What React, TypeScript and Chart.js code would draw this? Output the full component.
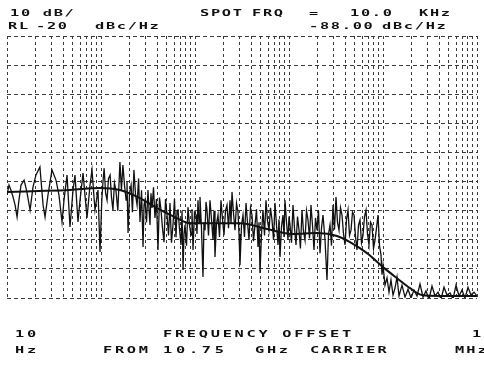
import React, { useEffect, useRef } from 'react';
import { Chart, registerables } from 'chart.js';
Chart.register(...registerables);

// Vertical grid (log decades with 2..9 sub-lines), Hz
const xGridTicks = [
  10, 20, 30, 40, 50, 60, 70, 80, 90,
  100, 200, 300, 400, 500, 600, 700, 800, 900,
  1000, 2000, 3000, 4000, 5000, 6000, 7000, 8000, 9000,
  10000, 20000, 30000, 40000, 50000, 60000, 70000, 80000, 90000,
  100000, 200000, 300000, 400000, 500000, 600000, 700000, 800000, 900000,
  1000000,
];
// Horizontal grid, dBc/Hz (10 dB/div, RL -20)
const yGridTicks = [-110, -100, -90, -80, -70, -60, -50, -40, -30, -20];

// Smoothed phase-noise curve
const smoothFreq = [10, 18.9, 46.8, 97.5, 159, 260, 394, 613, 885, 3010, 5840, 11000, 19900, 32400, 44600, 67600, 100000, 141000, 194000, 260000, 404000, 1000000];
const smoothDb = [-73.6, -73.3, -72.9, -72.2, -72.9, -75.7, -79.1, -82.2, -84.3, -84.3, -86.3, -88.0, -87.7, -88.7, -90.8, -94.6, -99.4, -103.2, -106.6, -109.0, -109.3, -109.3];

// Raw measured trace, 10 Hz - 100 Hz
const raw1Freq = [10, 10.5, 11.0, 11.6, 12.2, 12.8, 13.4, 14.1, 15.2, 16.3, 17.6, 18.9, 20.3, 22.4, 24.2, 25.4, 27.3, 30.1, 33.2, 35.7, 38.5, 40.4, 43.5, 46.8, 50.4, 52.9, 56.9, 59.8, 64.4, 71.0, 76.4, 80.2, 86.3, 92.9, 97.6];
const raw1Db = [-74.6, -71.2, -72.9, -75.3, -78.1, -82.2, -76.4, -71.2, -69.5, -73.6, -79.8, -71.9, -67.8, -65.0, -78.1, -82.2, -74.6, -66.0, -69.5, -74.6, -83.9, -76.4, -67.8, -85.6, -72.9, -67.8, -83.9, -76.4, -67.1, -82.5, -71.2, -66.0, -79.8, -72.9, -94.2];

// 100 Hz - 1 kHz
const raw2Freq = [102, 105, 108, 112, 116, 120, 125, 129, 134, 139, 144, 151, 159, 165, 171, 178, 185, 189, 194, 201, 209, 216, 224, 233, 242, 251, 260, 270, 280, 287, 294, 305, 316, 324, 332, 340, 349, 362, 375, 389, 404, 419, 435, 451, 468, 486, 504, 523, 542, 562, 583, 605, 628, 644, 660, 685, 710, 728, 746, 764, 783, 812, 842, 874, 907, 929, 952, 988];
const raw2Db = [-76.4, -70.0, -65.4, -74.0, -76.4, -69.0, -67.8, -75.0, -79.8, -70.5, -72.9, -80.0, -63.3, -73.0, -64.3, -71.5, -76.4, -70.0, -87.7, -74.0, -71.2, -80.5, -66.0, -74.5, -78.1, -69.0, -83.9, -73.0, -92.5, -78.0, -76.4, -84.0, -72.9, -79.5, -84.9, -74.0, -79.1, -72.0, -82.5, -76.0, -93.5, -75.5, -79.8, -86.0, -90.8, -76.0, -81.5, -88.5, -77.4, -91.0, -84.9, -76.0, -89.1, -80.0, -79.8, -86.5, -91.8, -80.0, -100.4, -88.0, -84.9, -92.0, -78.8, -85.0, -88.4, -79.5, -93.5, -80.5];

// 1 kHz - 10 kHz
const raw3Freq = [1025, 1050, 1076, 1103, 1130, 1172, 1216, 1247, 1278, 1310, 1342, 1392, 1444, 1498, 1554, 1593, 1632, 1693, 1757, 1823, 1891, 1962, 2035, 2111, 2190, 2272, 2357, 2416, 2476, 2569, 2665, 2765, 2868, 2939, 3011, 3124, 3241, 3362, 3488, 3619, 3754, 3894, 4040, 4191, 4348, 4511, 4680, 4796, 4915, 5099, 5289, 5487, 5692, 5905, 6127, 6357, 6595, 6842, 7097, 7363, 7638, 7828, 8023, 8323, 8634, 8848, 9067, 9407, 9759, 10000];
const raw3Db = [-81.5, -88.0, -76.4, -84.0, -75.3, -86.0, -102.8, -84.0, -86.7, -77.0, -79.8, -88.5, -76.4, -83.0, -90.1, -80.0, -95.9, -84.5, -81.5, -89.0, -76.4, -83.0, -88.4, -80.0, -78.1, -86.0, -76.4, -84.5, -73.6, -81.0, -86.7, -77.5, -80.5, -88.0, -98.7, -85.0, -81.5, -89.0, -77.4, -84.0, -90.1, -79.0, -81.5, -90.5, -84.9, -79.5, -92.5, -84.0, -101.4, -88.0, -79.8, -88.5, -76.4, -83.5, -86.7, -79.0, -83.2, -90.0, -77.4, -85.0, -91.8, -83.0, -95.9, -85.5, -81.5, -89.0, -76.4, -84.0, -90.1, -82.0];

// 10 kHz - 100 kHz
const raw4Freq = [10250, 10630, 11030, 11440, 11870, 12320, 12780, 13230, 13750, 14240, 14800, 15350, 15930, 16530, 17140, 17780, 18450, 19140, 19860, 20600, 21370, 22170, 23000, 24160, 25370, 26320, 27310, 28330, 29390, 30480, 31620, 32810, 34040, 35320, 36640, 38010, 39430, 40920, 42440, 44030, 45670, 47380, 49150, 50990, 52890, 54870, 56920, 59050, 61270, 63570, 65950, 68410, 70970, 73630, 76380, 79240, 82220, 85290, 88470, 91780, 95220, 97600];
const raw4Db = [-84.9, -91.0, -78.1, -86.0, -91.8, -82.0, -86.7, -93.0, -79.8, -87.0, -90.1, -80.0, -83.2, -89.5, -78.1, -85.0, -93.5, -82.5, -86.7, -80.0, -94.6, -86.0, -81.5, -90.0, -103.8, -88.0, -84.9, -92.0, -78.1, -86.5, -75.3, -84.0, -86.7, -79.0, -81.5, -88.0, -91.8, -83.0, -79.8, -88.5, -86.7, -80.5, -81.5, -89.0, -93.5, -85.0, -83.2, -91.0, -88.4, -82.0, -79.8, -88.0, -91.8, -84.0, -84.9, -93.0, -90.1, -86.0, -81.5, -92.0, -95.2, -102.0];

// 100 kHz - 1 MHz
const raw5Freq = [100000, 105000, 110300, 115800, 121600, 127800, 134200, 140900, 148000, 159300, 171400, 184500, 198600, 213700, 230000, 247600, 266500, 286800, 308700, 332100, 357400, 384700, 414000, 445600, 479600, 516200, 555600, 597900, 643500, 692500, 745500, 802300, 863400, 929300, 1000000];
const raw5Db = [-98.7, -105.6, -103.1, -108.0, -103.8, -109.0, -106.6, -102.8, -109.3, -105.6, -109.7, -107.0, -110.0, -107.3, -109.3, -105.2, -109.7, -107.6, -110.4, -105.9, -109.3, -108.0, -110.4, -106.3, -109.0, -108.3, -110.4, -105.6, -109.3, -107.3, -110.0, -106.3, -109.0, -108.0, -109.3];

const rawFreq = [...raw1Freq, ...raw2Freq, ...raw3Freq, ...raw4Freq, ...raw5Freq];
const rawDb = [...raw1Db, ...raw2Db, ...raw3Db, ...raw4Db, ...raw5Db];

const labels = [
  { text: '10 dB/', x: 10, y: 10, ls: 1 },
  { text: 'SPOT', x: 200, y: 10, ls: 1 },
  { text: 'FRQ', x: 252, y: 10, ls: 1 },
  { text: '=', x: 309, y: 10, ls: 1 },
  { text: '10.0', x: 350, y: 10, ls: 1 },
  { text: 'KHz', x: 419, y: 10, ls: 1 },
  { text: 'RL', x: 8, y: 23, ls: 1 },
  { text: '-20', x: 36, y: 23, ls: 1 },
  { text: 'dBc/Hz', x: 95, y: 23, ls: 1 },
  { text: '-88.00', x: 309, y: 23, ls: 1 },
  { text: 'dBc/Hz', x: 382, y: 23, ls: 1 },
  { text: '10', x: 15, y: 331, ls: 1.6 },
  { text: 'Hz', x: 15, y: 347, ls: 1.6 },
  { text: 'FREQUENCY OFFSET', x: 163, y: 331, ls: 1.6 },
  { text: 'FROM', x: 103, y: 347, ls: 1.6 },
  { text: '10.75', x: 163, y: 347, ls: 2.2 },
  { text: 'GHz', x: 255, y: 347, ls: 1.6 },
  { text: 'CARRIER', x: 310, y: 347, ls: 1.2 },
  { text: '1', x: 472, y: 331, ls: 1.6 },
  { text: 'MHz', x: 455, y: 347, ls: 1.2 },
];

export default function App() {
  const ref = useRef<HTMLCanvasElement>(null);
  useEffect(() => {
    if (!ref.current) return;
    const gridColor = '#3a3a3a';
    const chart = new Chart(ref.current, {
      type: 'line',
      data: {
        datasets: [
          {
            data: smoothFreq.map((f, i) => ({ x: f, y: smoothDb[i] })),
            borderColor: '#111',
            borderWidth: 2,
            pointRadius: 0,
            cubicInterpolationMode: 'monotone',
            fill: false,
          },
          {
            data: rawFreq.map((f, i) => ({ x: f, y: rawDb[i] })),
            borderColor: '#111',
            borderWidth: 1.3,
            pointRadius: 0,
            tension: 0,
            fill: false,
          },
        ],
      },
      options: {
        animation: false,
        responsive: false,
        events: [],
        layout: { padding: { left: 7, right: 7, top: 36, bottom: 69 } },
        plugins: { legend: { display: false }, tooltip: { enabled: false } },
        scales: {
          x: {
            type: 'logarithmic',
            min: 10,
            max: 1000000,
            afterBuildTicks: (s: any) => {
              s.ticks = xGridTicks.map((v) => ({ value: v }));
            },
            ticks: { display: false },
            grid: { color: gridColor, lineWidth: 1, drawTicks: false },
            border: { display: false, dash: [3, 3] },
          },
          y: {
            type: 'linear',
            min: -110,
            max: -20,
            afterBuildTicks: (s: any) => {
              s.ticks = yGridTicks.map((v) => ({ value: v }));
            },
            ticks: { display: false },
            grid: { color: gridColor, lineWidth: 1, drawTicks: false },
            border: { display: false, dash: [4, 3] },
          },
        },
      },
    });
    return () => chart.destroy();
  }, []);

  return (
    <div style={{ position: 'absolute', left: 0, top: 0, width: 484, height: 367, background: '#fff', overflow: 'hidden' }}>
      <canvas ref={ref} width={484} height={367} style={{ position: 'absolute', left: 0, top: 0, width: 484, height: 367 }} />
      {labels.map((l, i) => (
        <div
          key={i}
          style={{
            position: 'absolute',
            left: l.x,
            top: l.y - 1,
            fontFamily: '"DejaVu Sans Mono", monospace',
            fontSize: 9,
            fontWeight: 'bold',
            lineHeight: '9px',
            letterSpacing: l.ls,
            color: '#111',
            whiteSpace: 'pre',
            transform: 'scaleX(1.7)',
            transformOrigin: 'left top',
          }}
        >
          {l.text}
        </div>
      ))}
    </div>
  );
}
